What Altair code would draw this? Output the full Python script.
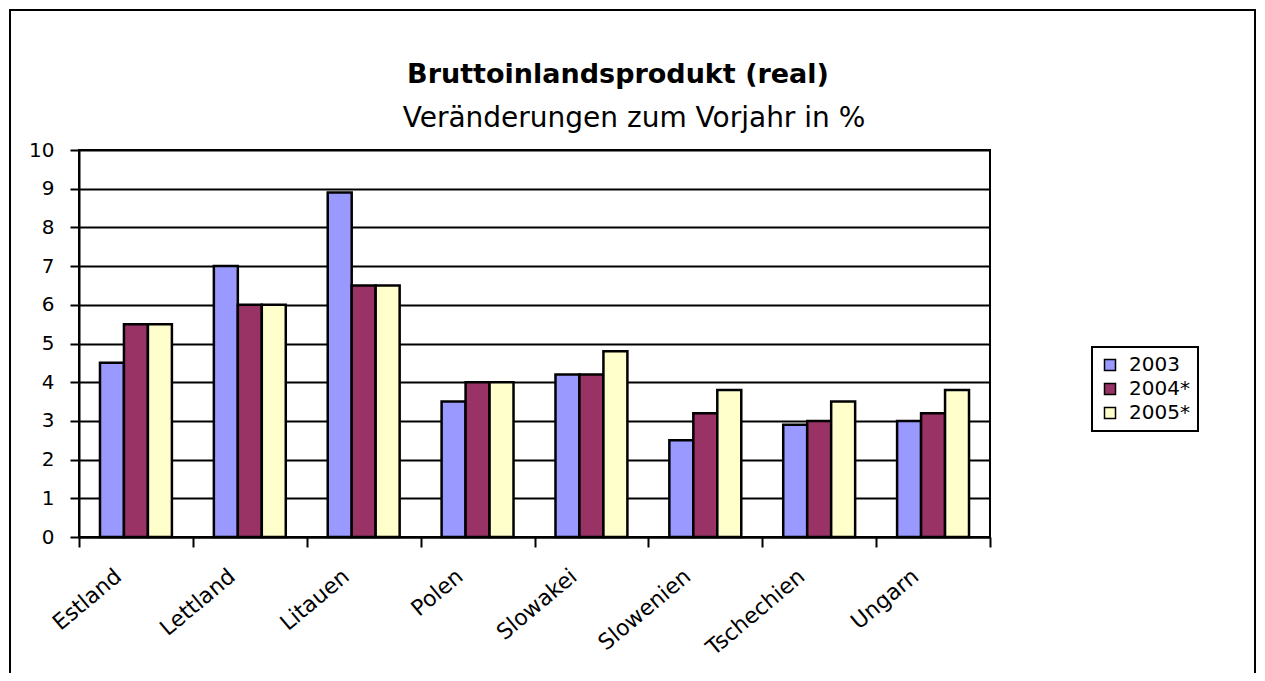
import altair as alt
import pandas as pd

countries = ["Estland", "Lettland", "Litauen", "Polen", "Slowakei", "Slowenien", "Tschechien", "Ungarn"]
series = ["2003", "2004*", "2005*"]
v2003 = [4.5, 7.0, 8.9, 3.5, 4.2, 2.5, 2.9, 3.0]
v2004 = [5.5, 6.0, 6.5, 4.0, 4.2, 3.2, 3.0, 3.2]
v2005 = [5.5, 6.0, 6.5, 4.0, 4.8, 3.8, 3.5, 3.8]
colors = ["#9999FF", "#993366", "#FFFFCC"]
y_ticks = list(range(0, 11))
title_text = "Bruttoinlandsprodukt (real)"
subtitle_text = "Veränderungen zum Vorjahr in %"

rows = []
for s, vals in zip(series, [v2003, v2004, v2005]):
    for c, v in zip(countries, vals):
        rows.append({"Land": c, "Jahr": s, "Wert": v})
df = pd.DataFrame(rows)

FONT = "DejaVu Sans"
W, H = 911, 387
PAD = {"left": 71, "top": 142, "right": 267, "bottom": 136}

bars = alt.Chart(df).mark_bar(stroke="black", strokeWidth=2.5).encode(
    x=alt.X("Land:N", sort=countries,
            scale=alt.Scale(paddingInner=0, paddingOuter=0),
            axis=alt.Axis(title=None, labelAngle=-40, labelAlign="right", labelBaseline="middle",
                          labelFontSize=22, labelFont=FONT, labelColor="black", labelPadding=26,
                          labelOffset=-18,
                          tickBand="extent", tickExtra=True, tickSize=10, tickWidth=2, tickColor="black",
                          domainColor="black", domainWidth=2, grid=False)),
    xOffset=alt.XOffset("Jahr:N", sort=series, scale=alt.Scale(paddingInner=0, paddingOuter=0.875)),
    y=alt.Y("Wert:Q", scale=alt.Scale(domain=[0, 10], nice=False),
            axis=alt.Axis(title=None, values=y_ticks, labelFontSize=20, labelFont=FONT, labelColor="black",
                          labelPadding=16, tickSize=9, tickWidth=2, tickColor="black",
                          domainColor="black", domainWidth=2, grid=True, gridColor="black", gridWidth=2)),
    color=alt.Color("Jahr:N", sort=series, scale=alt.Scale(domain=series, range=colors),
                    legend=alt.Legend(title=None, orient="none", legendX=1013, legendY=197,
                                      direction="vertical", strokeColor="black",
                                      fillColor="white", padding=8, labelFontSize=20, labelFont=FONT,
                                      labelColor="black", symbolType="square", symbolSize=121,
                                      symbolStrokeColor="black", symbolStrokeWidth=1.5,
                                      rowPadding=4, labelOffset=9)),
)

frame = alt.Chart(pd.DataFrame({"f": [1]})).mark_rect(
    fill="white", fillOpacity=0, stroke="black", strokeWidth=2
).encode(
    x=alt.value(-69), x2=alt.value(1176), y=alt.value(-140), y2=alt.value(700)
)

title = alt.Chart(pd.DataFrame({"t": [title_text]})).mark_text(
    font=FONT, fontSize=27, fontWeight="bold", align="center", baseline="alphabetic", color="black"
).encode(text="t:N", x=alt.value(539), y=alt.value(-67))

subtitle = alt.Chart(pd.DataFrame({"t": [subtitle_text]})).mark_text(
    font=FONT, fontSize=28, align="center", baseline="alphabetic", color="black"
).encode(text="t:N", x=alt.value(555), y=alt.value(-23))

chart = alt.layer(frame, bars, title, subtitle).properties(
    width=W, height=H, padding=PAD,
    autosize=alt.AutoSizeParams(type="none"),
).configure(background="white", font=FONT).configure_view(
    stroke="black", strokeWidth=2
).configure_legend(strokeWidth=2)

chart.save("out.html", embed_options={"renderer": "svg", "actions": False})
